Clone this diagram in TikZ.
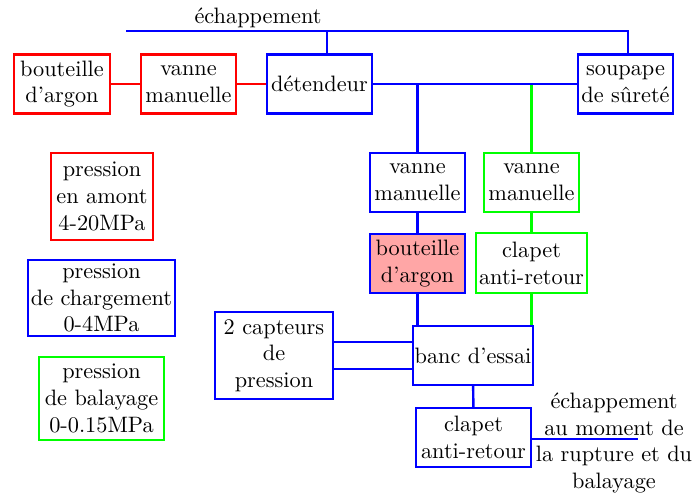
\documentclass[tikz,border=0pt]{standalone}
\usepackage{tikz}
\newdimen\pxu
\pxu=0.4484pt
\definecolor{vgreen}{rgb}{0,1,0}
\tikzset{
  box/.style={draw, line width=1.1pt, align=center, inner sep=0pt},
  wire/.style={line width=1.1pt},
  lbl/.style={align=center, inner sep=0pt},
}
\begin{document}
\begin{tikzpicture}[x=0.4484pt, y=-0.4484pt]
\useasboundingbox (0,0) rectangle (697,494);
% top row
\node[box, red, text=black, minimum width=96\pxu, minimum height=59\pxu] (b1) at (62,84) {bouteille\\d'argon};
\node[box, red, text=black, minimum width=95\pxu, minimum height=59\pxu] (v1) at (188.5,84) {vanne\\manuelle};
\node[box, blue, text=black, minimum width=105\pxu, minimum height=59\pxu] (det) at (319.5,84) {détendeur};
\node[box, blue, text=black, minimum width=95\pxu, minimum height=59\pxu] (soup) at (625.5,84) {soupape\\de sûreté};
% middle column
\node[box, blue, text=black, minimum width=95\pxu, minimum height=59\pxu] (vm1) at (417.5,182.5) {vanne\\manuelle};
\node[box, vgreen, text=black, minimum width=95\pxu, minimum height=59\pxu] (vm2) at (531.5,182.5) {vanne\\manuelle};
\node[box, blue, fill=red!35, text=black, minimum width=95\pxu, minimum height=59\pxu] (bt2) at (417.5,263.5) {bouteille\\d'argon};
\node[box, vgreen, text=black, minimum width=111\pxu, minimum height=60\pxu] (cl1) at (531.5,263) {clapet\\anti-retour};
\node[box, blue, text=black, minimum width=120\pxu, minimum height=59\pxu] (banc) at (473,355.5) {banc d'essai};
\node[box, blue, text=black, minimum width=118\pxu, minimum height=87\pxu] (cap) at (274,355.5) {2 capteurs\\de\\pression};
\node[box, blue, text=black, minimum width=115\pxu, minimum height=59\pxu] (cl2) at (473.5,437.5) {clapet\\anti-retour};
% legend
\node[box, red, text=black, minimum width=102\pxu, minimum height=87\pxu] (lg1) at (102,196.5) {pression\\en amont\\4-20MPa};
\node[box, blue, text=black, minimum width=147\pxu, minimum height=76\pxu] (lg2) at (101.5,298) {pression\\de chargement\\0-4MPa};
\node[box, vgreen, text=black, minimum width=125\pxu, minimum height=83\pxu] (lg3) at (101.5,398.5) {pression\\de balayage\\0-0.15MPa};
% labels
\node[lbl] (ech) at (258,18) {échappement};
\node[lbl] (ech2) at (614,443) {échappement\\au moment de\\la rupture et du\\balayage};
% coordinates
\coordinate (e0) at (126,31);
\coordinate (e1) at (628,31);
\coordinate (e2) at (327,31);
\coordinate (ex) at (638,439);
% red connectors
\draw[wire, red] (b1) -- (v1);
\draw[wire, red] (v1) -- (det);
% blue connectors
\draw[wire, blue] (e0) -- (e1) -- (e1 |- soup.north);
\draw[wire, blue] (e2) -- (e2 |- det.north);
\draw[wire, blue] (det.east) -- (soup.west);
\draw[wire, blue] (vm1.north) -- (vm1.north |- det.east);
\draw[wire, blue] (vm1) -- (bt2);
\draw[wire, blue] (bt2.south) -- (bt2.south |- banc.north);
\draw[wire, blue] ([yshift=13.5\pxu]cap.east) -- ([yshift=13.5\pxu]cap.east -| banc.west);
\draw[wire, blue] ([yshift=-13.5\pxu]cap.east) -- ([yshift=-13.5\pxu]cap.east -| banc.west);
\draw[wire, blue] (banc) -- (cl2);
\draw[wire, blue] ([yshift=-1.5\pxu]cl2.east) -- ([yshift=-1.5\pxu]cl2.east -| ex);
% green connectors
\draw[wire, vgreen] (vm2.north) -- ([yshift=-1\pxu]vm2.north |- det.east);
\draw[wire, vgreen] (vm2) -- (cl1);
\draw[wire, vgreen] (cl1.south) -- (cl1.south |- banc.north);
\end{tikzpicture}
\end{document}
